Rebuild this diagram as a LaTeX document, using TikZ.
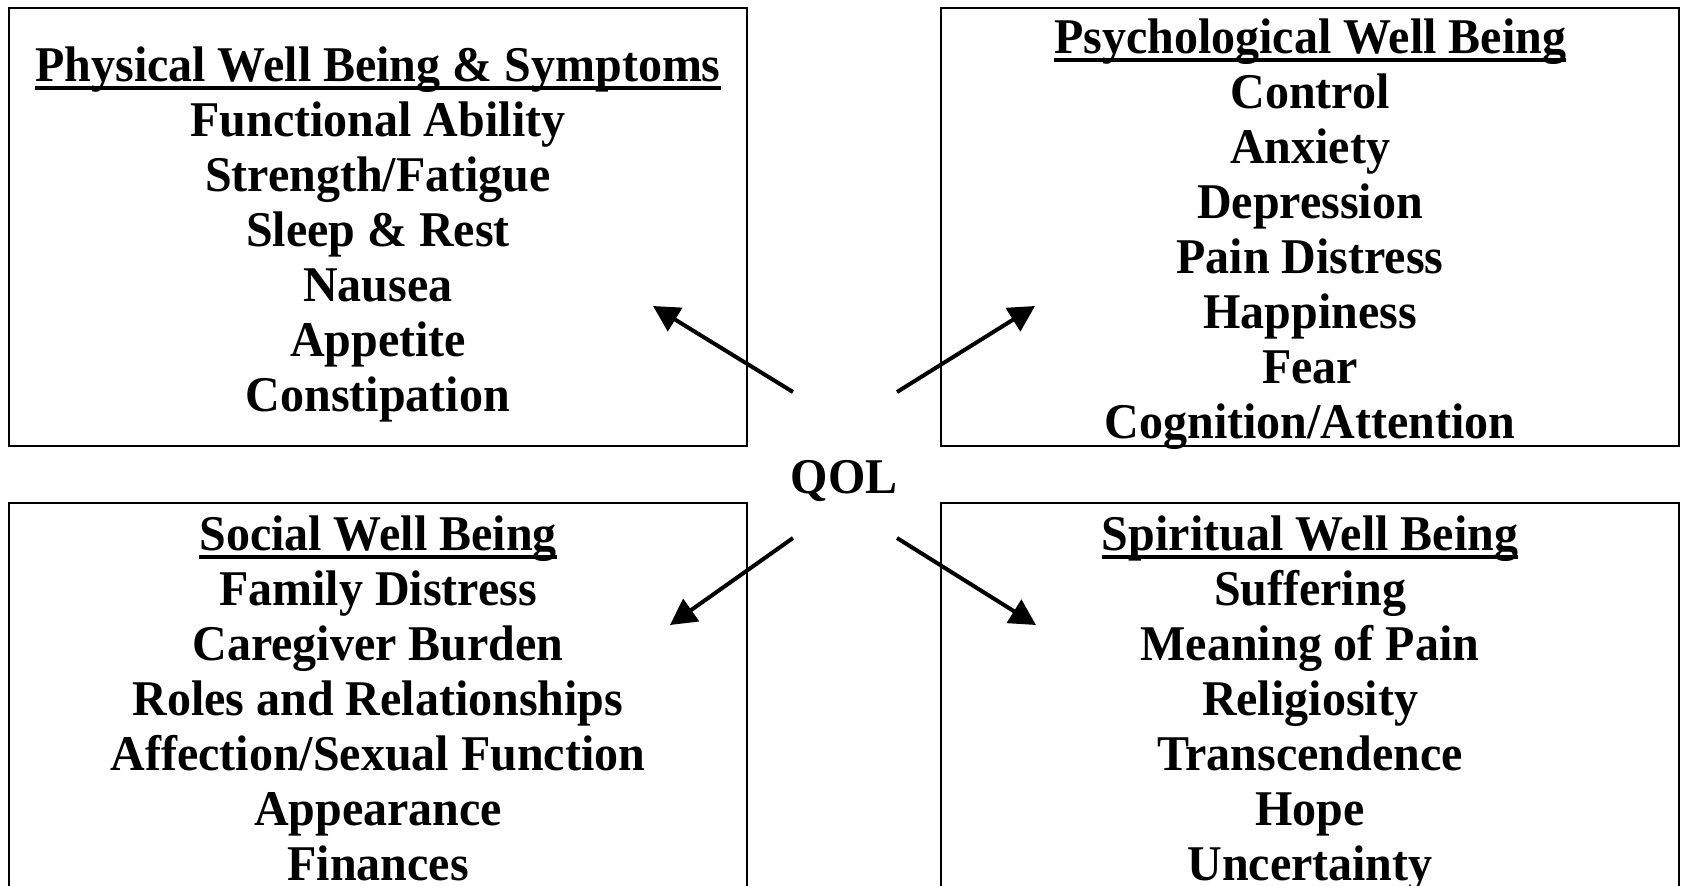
\documentclass[tikz,border=0pt]{standalone}
\usepackage{fontspec}
\setmainfont{Liberation Serif}[FakeStretch=0.96]
\usetikzlibrary{arrows.meta,positioning}

% podkreslenie tytulu (przecina ogonki liter)
\newcommand{\ulhead}[1]{%
    \setbox0\hbox{#1}%
    \rlap{\rule[-4.2pt]{\wd0}{1.6pt}}\box0}

\begin{document}
\begin{tikzpicture}[
    >={Triangle[length=13pt,width=13.5pt]},
    x=0.5pt,
    y=-0.5pt,
    font=\bfseries\fontsize{25}{27.5}\selectfont,
    box/.style={draw,line width=1.4pt},
    listing/.style={align=center,inner sep=0pt,anchor=north},
    arr/.style={->,line width=2pt}
]

\useasboundingbox (0,0) rectangle (1681,885);

% Ramki
\draw[box]
    (9,8)
    rectangle
    (747,446);

\draw[box]
    (941,8)
    rectangle
    (1679,446);

\draw[box]
    (9,886)
    --
    (9,503)
    --
    (747,503)
    --
    (747,886);

\draw[box]
    (941,886)
    --
    (941,503)
    --
    (1679,503)
    --
    (1679,886);

% Teksty w ramkach
\node[listing] (physical) at (378,46)
    {\ulhead{Physical Well Being \& Symptoms}\\
     Functional Ability\\
     Strength/Fatigue\\
     Sleep \& Rest\\
     Nausea\\
     Appetite\\
     Constipation};

\node[listing] (psycho) at (1310,18)
    {\ulhead{Psychological Well Being}\\
     Control\\
     Anxiety\\
     Depression\\
     Pain Distress\\
     Happiness\\
     Fear\\
     Cognition/Attention};

\node[listing] (social) at (378,515)
    {\ulhead{Social Well Being}\\
     Family Distress\\
     Caregiver Burden\\
     Roles and Relationships\\
     Affection/Sexual Function\\
     Appearance\\
     Finances};

\node[listing] (spiritual) at (1310,515)
    {\ulhead{Spiritual Well Being}\\
     Suffering\\
     Meaning of Pain\\
     Religiosity\\
     Transcendence\\
     Hope\\
     Uncertainty};

% Srodek
\node[anchor=base,inner sep=0pt] (qol) at (844,493)
    {QOL};

% Strzalki
\coordinate (qolNW) at (793,392);
\coordinate (qolNE) at (897,392);
\coordinate (qolSW) at (793,538);
\coordinate (qolSE) at (897,538);

\coordinate (tipPhys) at (653,306);
\coordinate (tipPsych) at (1035,306);
\coordinate (tipSoc) at (670,625);
\coordinate (tipSpir) at (1036,625);

\draw[arr] (qolNW) -- (tipPhys);
\draw[arr] (qolNE) -- (tipPsych);
\draw[arr] (qolSW) -- (tipSoc);
\draw[arr] (qolSE) -- (tipSpir);

\end{tikzpicture}
\end{document}
